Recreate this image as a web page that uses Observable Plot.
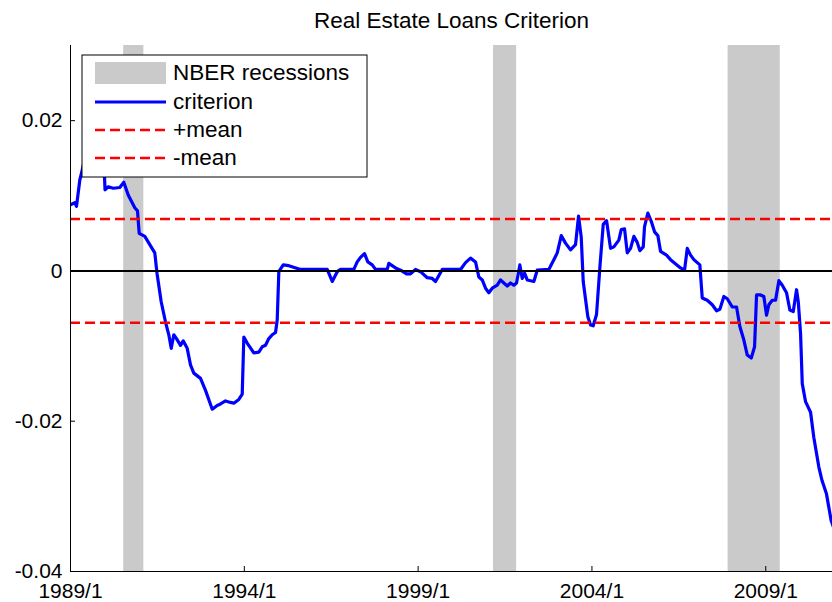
<!DOCTYPE html>
<html><head><meta charset="utf-8">
<script src="https://cdn.jsdelivr.net/npm/d3@7"></script>
<script src="https://cdn.jsdelivr.net/npm/@observablehq/plot@0.6"></script>
<style>body{margin:0;background:#fff;} svg{display:block}</style>
</head><body><div id="chart"></div>
<script>
const title = "Real Estate Loans Criterion";
const years = [
1989.000, 1989.124, 1989.173, 1989.268, 1989.316, 1989.460, 1989.633, 1989.806, 1989.949, 1989.993,
1990.085, 1990.228, 1990.418, 1990.533, 1990.660, 1990.850, 1990.927, 1990.976, 1991.138, 1991.281,
1991.425, 1991.488, 1991.609, 1991.733, 1991.828, 1991.897, 1991.972, 1992.049, 1992.165, 1992.242,
1992.357, 1992.452, 1992.547, 1992.740, 1992.884, 1993.077, 1993.220, 1993.315, 1993.459, 1993.603,
1993.698, 1993.842, 1993.940, 1993.986, 1994.083, 1994.273, 1994.417, 1994.515, 1994.610, 1994.705,
1994.803, 1994.898, 1994.947, 1994.993, 1995.119, 1995.280, 1995.617, 1996.385, 1996.529, 1996.673,
1996.768, 1997.150, 1997.248, 1997.343, 1997.458, 1997.553, 1997.680, 1997.774, 1998.111, 1998.157,
1998.350, 1998.494, 1998.666, 1998.781, 1998.925, 1999.069, 1999.262, 1999.406, 1999.501, 1999.694,
2000.220, 2000.364, 2000.507, 2000.651, 2000.746, 2000.844, 2000.939, 2001.034, 2001.132, 2001.276,
2001.371, 2001.466, 2001.564, 2001.658, 2001.753, 2001.831, 2001.926, 2001.995, 2002.061, 2002.139,
2002.329, 2002.426, 2002.760, 2002.904, 2003.002, 2003.117, 2003.240, 2003.384, 2003.528, 2003.614,
2003.692, 2003.749, 2003.882, 2003.960, 2004.037, 2004.132, 2004.227, 2004.325, 2004.420, 2004.535,
2004.630, 2004.774, 2004.843, 2004.938, 2005.016, 2005.111, 2005.206, 2005.303, 2005.378, 2005.476,
2005.513, 2005.608, 2005.706, 2005.801, 2005.896, 2005.974, 2006.146, 2006.261, 2006.549, 2006.664,
2006.742, 2006.837, 2006.932, 2007.104, 2007.173, 2007.317, 2007.461, 2007.585, 2007.680, 2007.795,
2007.893, 2008.037, 2008.160, 2008.255, 2008.370, 2008.468, 2008.583, 2008.678, 2008.735, 2008.850,
2008.945, 2009.023, 2009.089, 2009.187, 2009.282, 2009.377, 2009.475, 2009.598, 2009.693, 2009.791,
2009.886, 2009.935, 2010.001, 2010.050, 2010.145, 2010.289, 2010.384, 2010.527, 2010.619, 2010.748,
2010.812, 2010.881, 2010.980
];
const criterion = [
0.0088, 0.0091, 0.0086, 0.0121, 0.013, 0.016, 0.018, 0.017, 0.016, 0.0108,
0.0112, 0.011, 0.0111, 0.0118, 0.0101, 0.0084, 0.008, 0.005, 0.0046, 0.0035,
0.0024, -0.0003, -0.0041, -0.0068, -0.0085, -0.0103, -0.0085, -0.009, -0.0099, -0.0093,
-0.0103, -0.0125, -0.0136, -0.0143, -0.0159, -0.0184, -0.0179, -0.0177, -0.0173, -0.0175,
-0.0176, -0.0171, -0.0164, -0.0088, -0.0096, -0.0109, -0.0108, -0.0101, -0.0099, -0.009,
-0.0085, -0.0082, -0.0065, -0.0001, 0.0008, 0.0007, 0.0002, 0.0002, -0.0014, -0.0001,
0.0002, 0.0002, 0.0012, 0.0018, 0.0023, 0.0012, 0.0008, 0.0002, 0.0002, 0.001,
0.0004, 0.0001, -0.0004, -0.0004, 0.0002, -0.0001, -0.0009, -0.001, -0.0014, 0.0002,
0.0002, 0.0011, 0.0017, 0.0012, -0.0008, -0.0012, -0.0023, -0.0029, -0.0023, -0.0019,
-0.0012, -0.0016, -0.002, -0.0016, -0.0019, -0.0016, 0.0008, -0.001, -0.0003, -0.0012,
-0.0014, 0.0001, 0.0002, 0.0015, 0.0024, 0.0047, 0.0037, 0.0028, 0.0035, 0.0073,
0.0045, -0.0014, -0.0061, -0.0072, -0.0073, -0.0058, 0.0004, 0.0062, 0.0067, 0.003,
0.0032, 0.0041, 0.0055, 0.0056, 0.0024, 0.003, 0.0046, 0.0038, 0.0027, 0.0032,
0.0059, 0.0077, 0.0066, 0.0052, 0.0047, 0.0026, 0.0021, 0.0015, 0.0004, 0.0001,
0.003, 0.0021, 0.0015, 0.0008, -0.0036, -0.0039, -0.0045, -0.0053, -0.0051, -0.0034,
-0.0037, -0.0048, -0.0048, -0.0074, -0.0092, -0.0112, -0.0116, -0.0101, -0.0032, -0.0032,
-0.0034, -0.0059, -0.0045, -0.0039, -0.0039, -0.0013, -0.0019, -0.0029, -0.0052, -0.0054,
-0.0025, -0.0041, -0.0083, -0.015, -0.0174, -0.0188, -0.0222, -0.0261, -0.0279, -0.0297,
-0.0314, -0.0332, -0.0345
];
const recessionStart = [1990.53, 2001.167, 2007.917];
const recessionEnd = [1991.11, 2001.833, 2009.417];
const meanLevel = 0.0069;
const xTicks = [1989, 1994, 1999, 2004, 2009];
const xTickLabels = ["1989/1", "1994/1", "1999/1", "2004/1", "2009/1"];
const yTicks = [-0.04, -0.02, 0, 0.02];
const yTickLabels = ["-0.04", "-0.02", "0", "0.02"];
const legendLabels = ["NBER recessions", "criterion", "+mean", "-mean"];

const W = 832, H = 602, mL = 70, mR = 0, mT = 45, mB = 31;
const FONT = "'Liberation Sans', Arial, Helvetica, sans-serif";
const series = years.map((t, i) => ({t, v: criterion[i]}));
const rec = recessionStart.map((s, i) => ({s, e: recessionEnd[i]}));

const chart = Plot.plot({
  width: W, height: H,
  marginLeft: mL, marginRight: mR, marginTop: mT, marginBottom: mB,
  style: {fontFamily: FONT, fontSize: "21px", color: "#000", background: "#fff"},
  x: {domain: [1989, 2010.92]},
  y: {domain: [-0.04, 0.03]},
  marks: [
    Plot.rect(rec, {x1: "s", x2: "e", fill: "#cacaca"}),
    Plot.line(series, {x: "t", y: "v", stroke: "#0000ff", strokeWidth: 3.2, clip: true}),
    Plot.ruleY([meanLevel, -meanLevel], {stroke: "#ff0000", strokeWidth: 2.5, strokeDasharray: "10,5"}),
    Plot.ruleY([0], {stroke: "#000", strokeWidth: 2}),
    Plot.ruleX([1989], {stroke: "#000"}),
    Plot.ruleY([-0.04], {stroke: "#000"}),
    Plot.ruleY(yTicks, {stroke: "#000", insetRight: W - mL - mR - 5}),
    Plot.ruleX(xTicks, {stroke: "#000", insetTop: H - mT - mB - 5}),
    Plot.axisX({ticks: xTicks, tickFormat: d => xTickLabels[xTicks.indexOf(d)], tickSize: 0, tickPadding: 12, label: null}),
    Plot.axisY({ticks: yTicks, tickFormat: d => yTickLabels[yTicks.indexOf(d)], tickSize: 0, tickPadding: 8, label: null}),
    Plot.text([title], {frameAnchor: "top", lineAnchor: "middle", dy: -25, fontSize: 22.5})
  ]
});
document.getElementById("chart").appendChild(chart);

// Legend (drawn on top, like MATLAB's boxed legend)
const svg = d3.select(chart);
const g = svg.append("g").attr("font-family", FONT).attr("font-size", 22.5).attr("text-anchor", "start");
g.append("rect").attr("x", 82).attr("y", 55).attr("width", 285).attr("height", 122)
  .attr("fill", "#fff").attr("stroke", "#000").attr("stroke-width", 1);
const rowsY = [73, 102, 130, 158];
g.append("rect").attr("x", 95).attr("y", 62).attr("width", 71).attr("height", 22).attr("fill", "#cacaca");
g.append("line").attr("x1", 95).attr("x2", 166).attr("y1", rowsY[1]).attr("y2", rowsY[1])
  .attr("stroke", "#0000ff").attr("stroke-width", 3.2);
[2, 3].forEach(k => g.append("line").attr("x1", 95).attr("x2", 166).attr("y1", rowsY[k]).attr("y2", rowsY[k])
  .attr("stroke", "#ff0000").attr("stroke-width", 2.5).attr("stroke-dasharray", "10,5"));
legendLabels.forEach((t, k) => g.append("text").attr("x", 173).attr("y", rowsY[k] + 7)
  .attr("text-anchor", "start").attr("fill", "#000").text(t));
</script></body></html>
